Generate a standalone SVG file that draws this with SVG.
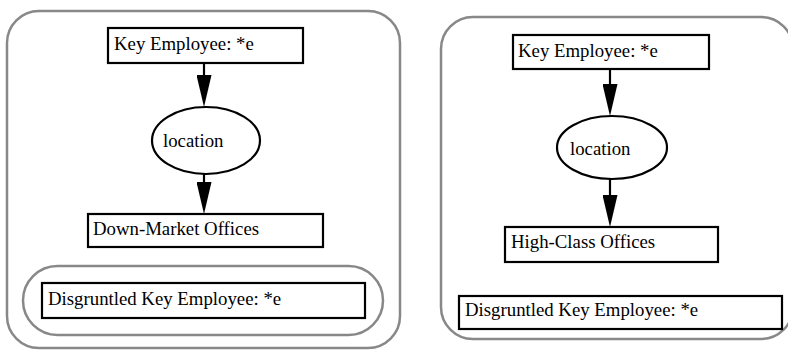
<svg xmlns="http://www.w3.org/2000/svg" width="788" height="350" viewBox="0 0 788 350">
  <style>
    .panel { fill: #ffffff; stroke: #888888; stroke-width: 2.5; }
    .box { fill: #ffffff; stroke: #000000; stroke-width: 2.2; }
    .oval { fill: #ffffff; stroke: #000000; stroke-width: 2.2; }
    .edge { fill: none; stroke: #000000; stroke-width: 2.2; marker-end: url(#arrow); }
    text { font-family: "Liberation Serif", "Times New Roman", serif; font-size: 18.8px; fill: #000000; }
  </style>
  <defs>
    <marker id="arrow" viewBox="0 0 32 15" refX="0" refY="7.5" markerWidth="32" markerHeight="15" markerUnits="userSpaceOnUse" orient="auto">
      <path d="M0,0 L32,7.5 L0,15 Z" fill="#000000"/>
    </marker>
  </defs>

  <rect width="788" height="350" fill="#ffffff"/>

  <!-- left situation -->
  <g id="left-panel">
    <rect class="panel" x="7" y="11" width="393" height="337" rx="32" ry="32"/>
  </g>
  <g id="left-disgruntled-group">
    <rect class="panel" x="23" y="266" width="360" height="69" rx="34.5" ry="34.5"/>
  </g>
  <g id="left-key-employee">
    <rect class="box" x="108" y="28" width="195" height="35"/>
    <text x="114" y="50">Key Employee: *e</text>
  </g>
  <g id="left-location">
    <ellipse class="oval" cx="206" cy="140.5" rx="54" ry="33.5"/>
    <text x="163" y="147">location</text>
  </g>
  <g id="left-offices">
    <rect class="box" x="88" y="214" width="235" height="33"/>
    <text x="93" y="235">Down-Market Offices</text>
  </g>
  <g id="left-disgruntled">
    <rect class="box" x="42" y="283" width="323" height="35"/>
    <text x="48" y="305">Disgruntled Key Employee: *e</text>
  </g>

  <!-- right situation -->
  <g id="right-panel">
    <rect class="panel" x="441" y="17" width="352" height="322" rx="32" ry="32"/>
  </g>
  <g id="right-key-employee">
    <rect class="box" x="513" y="35" width="196" height="34"/>
    <text x="518" y="57">Key Employee: *e</text>
  </g>
  <g id="right-location">
    <ellipse class="oval" cx="612" cy="147.5" rx="55" ry="31.5"/>
    <text x="570" y="155">location</text>
  </g>
  <g id="right-offices">
    <rect class="box" x="505" y="227" width="213" height="35"/>
    <text x="511" y="248">High-Class Offices</text>
  </g>
  <g id="right-disgruntled">
    <rect class="box" x="459" y="296" width="323" height="33"/>
    <text x="465" y="316">Disgruntled Key Employee: *e</text>
  </g>

  <!-- connectors -->
  <g id="connectors">
    <path class="edge" d="M204,63 L204,75"/>
    <path class="edge" d="M204,174 L204,182"/>
    <path class="edge" d="M610,69 L610,84"/>
    <path class="edge" d="M610,179 L610,195"/>
  </g>
</svg>
